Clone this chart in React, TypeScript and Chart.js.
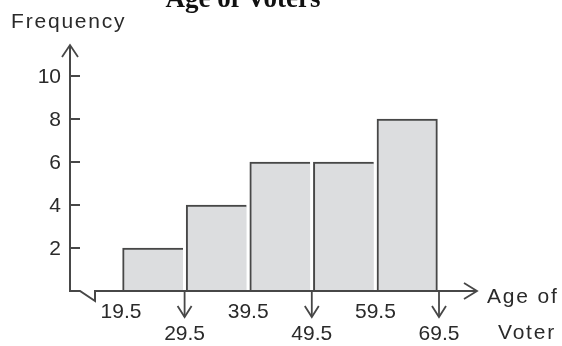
import React, { useEffect, useRef } from "react";
import { Chart, registerables } from "chart.js";

Chart.register(...registerables);

const chartTitle = "Age of Voters";
const yAxisTitle = "Frequency";
const xAxisTitleLines = ["Age of", "Voter"];
const binEdges = [19.5, 29.5, 39.5, 49.5, 59.5, 69.5];
const edgeLabels = ["19.5", "29.5", "39.5", "49.5", "59.5", "69.5"];
const frequencies = [2, 4, 6, 6, 8];
const yTicks = [2, 4, 6, 8, 10];

const AXIS = "#474747";
const TEXT = "#2a2a2a";
const FONT = '"Liberation Sans", Arial, sans-serif';

const axesPlugin = {
  id: "customAxes",
  afterDraw(chart: any) {
    const { ctx, scales } = chart;
    const xs = scales.x;
    const ys = scales.y;
    const axisX = xs.getPixelForValue(binEdges[0]) - 51;
    const axisY = ys.getPixelForValue(0);
    const yTop = ys.getPixelForValue(10) - 31;
    const xEnd = xs.getPixelForValue(binEdges[binEdges.length - 1]) + 38;

    ctx.save();
    ctx.strokeStyle = AXIS;
    ctx.lineWidth = 2;
    ctx.lineJoin = "miter";
    ctx.lineCap = "butt";

    // y axis with break into x axis
    ctx.beginPath();
    ctx.moveTo(axisX, yTop);
    ctx.lineTo(axisX, axisY);
    ctx.lineTo(axisX + 10, axisY);
    ctx.lineTo(axisX + 25, axisY + 10);
    ctx.lineTo(axisX + 25, axisY);
    ctx.lineTo(xEnd, axisY);
    ctx.stroke();

    // arrow heads
    ctx.lineWidth = 1.8;
    ctx.beginPath();
    ctx.moveTo(axisX - 8, yTop + 12);
    ctx.lineTo(axisX, yTop);
    ctx.lineTo(axisX + 8, yTop + 12);
    ctx.stroke();
    ctx.beginPath();
    ctx.moveTo(xEnd - 13, axisY - 8);
    ctx.lineTo(xEnd, axisY);
    ctx.lineTo(xEnd - 13, axisY + 8);
    ctx.stroke();

    // y ticks
    ctx.lineWidth = 2;
    ctx.fillStyle = TEXT;
    ctx.font = `21px ${FONT}`;
    ctx.textAlign = "right";
    ctx.textBaseline = "middle";
    yTicks.forEach((v) => {
      const py = ys.getPixelForValue(v);
      ctx.beginPath();
      ctx.moveTo(axisX, py);
      ctx.lineTo(axisX + 10, py);
      ctx.stroke();
      ctx.fillText(String(v), axisX - 9, py + 1);
    });

    // x edge labels, staggered with down arrows
    ctx.textAlign = "center";
    ctx.textBaseline = "alphabetic";
    binEdges.forEach((e, i) => {
      const px = xs.getPixelForValue(e);
      if (i % 2 === 0) {
        ctx.fillText(edgeLabels[i], px, axisY + 27);
      } else {
        ctx.lineWidth = 1.8;
        ctx.beginPath();
        ctx.moveTo(px, axisY);
        ctx.lineTo(px, axisY + 26);
        ctx.stroke();
        ctx.beginPath();
        ctx.moveTo(px - 7, axisY + 15);
        ctx.lineTo(px, axisY + 26);
        ctx.lineTo(px + 7, axisY + 15);
        ctx.stroke();
        ctx.fillText(edgeLabels[i], px, axisY + 49);
      }
    });

    // axis titles
    (ctx as any).letterSpacing = "1.8px";
    ctx.textAlign = "left";
    ctx.fillText(xAxisTitleLines[0], xEnd + 10, axisY + 12);
    ctx.textAlign = "center";
    ctx.fillText(xAxisTitleLines[1], xEnd + 50, axisY + 48);
    ctx.textAlign = "left";
    ctx.fillText(yAxisTitle, 11, 28);
    (ctx as any).letterSpacing = "0px";

    // chart title (clipped at top)
    ctx.fillStyle = "#111";
    ctx.font = `bold 27px "Liberation Serif", "Times New Roman", serif`;
    ctx.textAlign = "center";
    ctx.fillText(chartTitle, 243, 7);
    ctx.restore();
  },
};

export default function App() {
  const ref = useRef<HTMLCanvasElement | null>(null);
  useEffect(() => {
    if (!ref.current) return;
    const centers = frequencies.map((_, i) => (binEdges[i] + binEdges[i + 1]) / 2);
    const last = frequencies.length - 1;
    const chart = new Chart(ref.current, {
      type: "bar",
      data: {
        datasets: [
          {
            data: centers.map((c, i) => ({ x: c, y: frequencies[i] })),
            backgroundColor: "#dcdddf",
            borderColor: AXIS,
            borderWidth: (c: any) => ({
              top: 2,
              left: 2,
              right: c.dataIndex === last ? 2 : 0,
              bottom: 0,
            }),
            borderSkipped: false,
            barPercentage: 1,
            categoryPercentage: 1,
          },
        ],
      },
      options: {
        animation: false,
        responsive: false,
        maintainAspectRatio: false,
        layout: { padding: { left: 121, right: 123, top: 76, bottom: 55 } },
        plugins: { legend: { display: false }, tooltip: { enabled: false }, title: { display: false } },
        scales: {
          x: {
            type: "linear",
            offset: false,
            min: binEdges[0],
            max: binEdges[binEdges.length - 1],
            display: false,
          },
          y: { min: 0, max: 10, display: false },
        },
      },
      plugins: [axesPlugin],
    });
    return () => chart.destroy();
  }, []);
  return (
    <div style={{ position: "absolute", left: 0, top: 0, width: 562, height: 346, background: "#fff" }}>
      <canvas ref={ref} width={562} height={346} style={{ display: "block" }} />
    </div>
  );
}
